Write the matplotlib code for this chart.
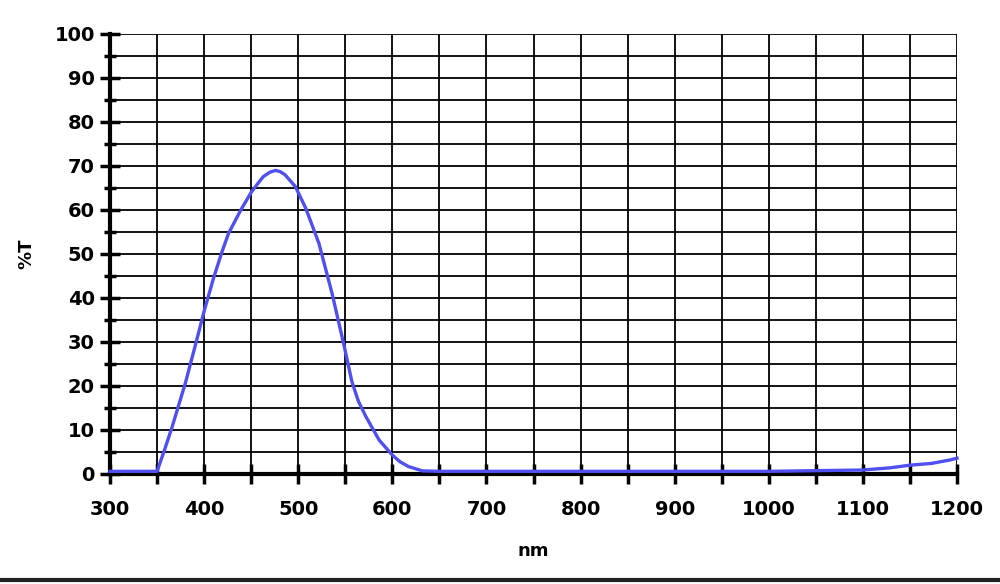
import numpy as np
import matplotlib.pyplot as plt
from matplotlib.lines import Line2D

# Datos
nm = [300, 350, 358, 366, 380, 391, 400, 410, 419, 426, 439, 450, 457, 463,
      470, 476, 481, 486, 497, 508, 522, 536, 549, 557, 564, 572, 586, 600,
      608, 617, 632, 650, 700, 800, 900, 1000, 1100, 1129, 1150, 1173, 1193,
      1200]
trans = [0.6, 0.6, 5.5, 10.7, 20.6, 29.5, 37.0, 44.5, 50.5, 54.7, 60.0, 64.0,
         66.0, 67.6, 68.6, 69.0, 68.7, 68.0, 65.3, 60.4, 52.4, 41.0, 28.9,
         21.0, 16.5, 13.0, 7.7, 4.3, 2.8, 1.7, 0.7, 0.6, 0.6, 0.6, 0.6, 0.6,
         0.9, 1.4, 2.0, 2.4, 3.2, 3.6]

x_ticks = list(range(300, 1201, 100))
y_ticks = list(range(0, 101, 10))

plt.rcParams['font.family'] = ['DejaVu Sans']

fig = plt.figure(figsize=(10, 5.84), dpi=100)
ax = fig.add_axes([0.11, 0.1884, 0.847, 0.7534])

ax.set_xlim([300, 1200])
ax.set_ylim([0, 100])

ax.set_xticks(x_ticks)
ax.set_xticks(list(range(350, 1200, 100)), minor=True)
ax.set_yticks(y_ticks)
ax.set_yticks(list(range(5, 100, 10)), minor=True)
ax.set_xticklabels([str(v) for v in x_ticks], fontsize=14, fontweight='bold')
ax.set_yticklabels([str(v) for v in y_ticks], fontsize=14, fontweight='bold')

ax.grid(True, which='both', color='black', linewidth=1.3)
ax.set_axisbelow(True)

ax.tick_params(axis='y', which='major', direction='inout', length=14, width=2.5, pad=4)
ax.tick_params(axis='y', which='minor', direction='inout', length=9, width=2.5)
ax.tick_params(axis='x', which='both', direction='inout', length=14, width=2.5, pad=12)

for s in ['top', 'right']:
    ax.spines[s].set_visible(False)
ax.spines['left'].set_linewidth(3)
ax.spines['bottom'].set_linewidth(3)

ax.plot(nm, trans, color='#5050f0', linewidth=2.4, clip_on=False, zorder=3)

ax.set_xlabel('nm', fontsize=13, fontweight='bold', labelpad=16)
ax.set_ylabel('%T', fontsize=13, fontweight='bold', labelpad=14)

# linea inferior del marco
fig.add_artist(Line2D([0, 1], [0.006, 0.006], color='#222222', linewidth=3,
                      transform=fig.transFigure))

fig.savefig('out.png', dpi=100)
